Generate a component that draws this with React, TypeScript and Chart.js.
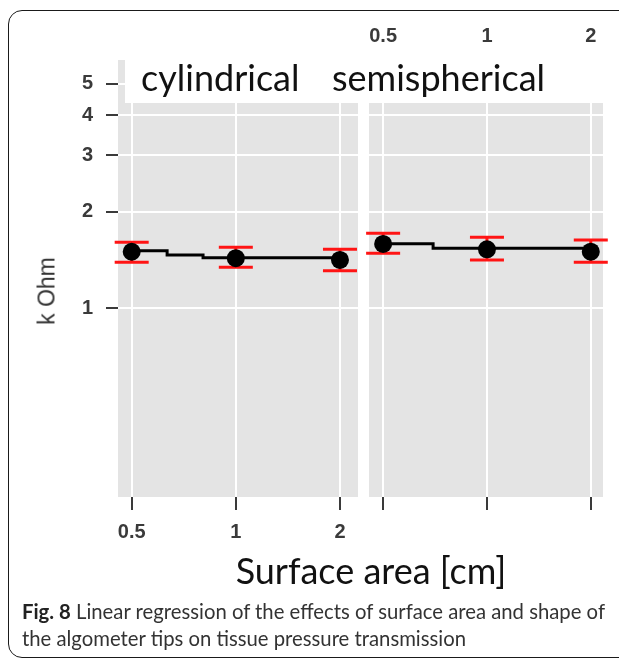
import React, { useEffect, useRef } from "react";
import { Chart, registerables } from "chart.js";

Chart.register(...registerables);

// ---- data ----
const xValues = [0.5, 1, 2];
const xTickLabels = ["0.5", "1", "2"];
const yTicks = [1, 2, 3, 4, 5];
const yTickLabels = ["1", "2", "3", "4", "5"];
const panelTitles = ["cylindrical", "semispherical"];

const cylMean = [1.5, 1.432, 1.414];
const cylLow = [1.391, 1.342, 1.31];
const cylHigh = [1.606, 1.549, 1.527];
const cylFitX = [0.5, 0.633, 0.804, 2];
const cylFitY = [1.51, 1.466, 1.437, 1.437];

const semiMean = [1.586, 1.527, 1.501];
const semiLow = [1.484, 1.414, 1.391];
const semiHigh = [1.713, 1.664, 1.632];
const semiFitX = [0.5, 0.698, 2];
const semiFitY = [1.588, 1.538, 1.53];

const Y_MIN = 0.2583;
const Y_MAX = 5.935;

const FONT_TICK = { family: "'Liberation Sans', Arial, sans-serif", size: 20, weight: "bold" as const };
const TICK_COLOR = "#3a3a3a";

const bgPlugin = {
  id: "panelBg",
  beforeDraw(chart: any) {
    const { ctx, chartArea } = chart;
    ctx.save();
    ctx.fillStyle = "#e4e4e4";
    ctx.fillRect(chartArea.left, chartArea.top, chartArea.right - chartArea.left, chartArea.bottom - chartArea.top);
    ctx.restore();
  },
};

const errPlugin = {
  id: "errBars",
  beforeDatasetDraw(chart: any, args: any) {
    const ds = chart.data.datasets[args.index];
    if (!ds.errLow) return;
    const { ctx } = chart;
    const xs = chart.scales.x;
    const ys = chart.scales.y;
    ctx.save();
    ctx.strokeStyle = "#ff1414";
    ctx.lineWidth = 3;
    ds.data.forEach((p: any, i: number) => {
      const px = xs.getPixelForValue(p.x);
      const lo = ys.getPixelForValue(ds.errLow[i]);
      const hi = ys.getPixelForValue(ds.errHigh[i]);
      const w = 17;
      ctx.beginPath();
      ctx.moveTo(px, lo);
      ctx.lineTo(px, hi);
      ctx.moveTo(px - w, lo);
      ctx.lineTo(px + w, lo);
      ctx.moveTo(px - w, hi);
      ctx.lineTo(px + w, hi);
      ctx.stroke();
    });
    ctx.restore();
  },
};

function makeConfig(
  mean: number[],
  low: number[],
  high: number[],
  fitX: number[],
  fitY: number[],
  left: boolean,
  xMin: number,
  xMax: number,
  padLeft: number,
  padRight: number
): any {
  const xTicksBuild = (s: any) => {
    s.ticks = xValues.map((v) => ({ value: v }));
  };
  const scales: any = {
    x: {
      type: "logarithmic",
      position: "bottom",
      min: xMin,
      max: xMax,
      afterBuildTicks: xTicksBuild,
      afterFit: (s: any) => {
        s.height = 63;
        s.paddingLeft = 0;
        s.paddingRight = 0;
      },
      border: { display: false },
      grid: {
        color: "#ffffff",
        lineWidth: 2,
        drawTicks: true,
        tickLength: 13,
        tickColor: TICK_COLOR,
        tickWidth: 2,
      },
      ticks: {
        font: FONT_TICK,
        color: TICK_COLOR,
        padding: 10,
        maxRotation: 0,
        autoSkip: false,
        callback: (_v: any, i: number) => (left ? xTickLabels[i] : ""),
      },
    },
    y: {
      type: "logarithmic",
      position: "left",
      min: Y_MIN,
      max: Y_MAX,
      afterBuildTicks: (s: any) => {
        s.ticks = yTicks.map((v) => ({ value: v }));
      },
      afterFit: (s: any) => {
        s.width = left ? 118 : 0;
        s.paddingTop = 0;
        s.paddingBottom = 0;
      },
      border: { display: false },
      grid: {
        color: "#ffffff",
        lineWidth: 2,
        drawTicks: left,
        tickLength: 12,
        tickColor: TICK_COLOR,
        tickWidth: 2,
      },
      ticks: {
        display: left,
        font: FONT_TICK,
        color: TICK_COLOR,
        padding: 13,
        autoSkip: false,
        callback: (_v: any, i: number) => yTickLabels[i],
      },
    },
  };
  if (!left) {
    scales.xTop = {
      type: "logarithmic",
      position: "top",
      min: xMin,
      max: xMax,
      afterBuildTicks: xTicksBuild,
      afterFit: (s: any) => {
        s.height = 60;
        s.paddingLeft = 0;
        s.paddingRight = 0;
      },
      border: { display: false },
      grid: { display: false, drawTicks: false },
      ticks: {
        font: FONT_TICK,
        color: TICK_COLOR,
        padding: 12,
        maxRotation: 0,
        autoSkip: false,
        callback: (_v: any, i: number) => xTickLabels[i],
      },
    };
  }
  return {
    type: "line",
    data: {
      datasets: [
        {
          label: "fit",
          data: fitX.map((x, i) => ({ x, y: fitY[i] })),
          borderColor: "#000000",
          borderWidth: 3,
          stepped: "before",
          pointRadius: 0,
          fill: false,
          order: 2,
        },
        {
          label: "mean",
          data: xValues.map((x, i) => ({ x, y: mean[i] })),
          errLow: low,
          errHigh: high,
          showLine: false,
          pointRadius: 9,
          pointBackgroundColor: "#000000",
          pointBorderColor: "#000000",
          pointBorderWidth: 0,
          order: 1,
        },
      ],
    },
    options: {
      animation: false,
      responsive: false,
      maintainAspectRatio: false,
      devicePixelRatio: 1,
      layout: { padding: { left: padLeft, right: padRight, top: left ? 60 : 0, bottom: 0 } },
      plugins: { legend: { display: false }, tooltip: { enabled: false } },
      scales,
    },
    plugins: [bgPlugin, errPlugin],
  };
}

export default function App() {
  const leftRef = useRef<HTMLCanvasElement>(null);
  const rightRef = useRef<HTMLCanvasElement>(null);

  useEffect(() => {
    const c1 = new Chart(
      leftRef.current as HTMLCanvasElement,
      makeConfig(cylMean, cylLow, cylHigh, cylFitX, cylFitY, true, 0.4565, 2.255, 0, 4)
    );
    const c2 = new Chart(
      rightRef.current as HTMLCanvasElement,
      makeConfig(semiMean, semiLow, semiHigh, semiFitX, semiFitY, false, 0.455, 2.17, 9, 16)
    );
    return () => {
      c1.destroy();
      c2.destroy();
    };
  }, []);

  const textFont = "Lato, 'Open Sans', sans-serif";

  return (
    <div
      style={{
        position: "absolute",
        left: 0,
        top: 0,
        width: 619,
        height: 662,
        overflow: "hidden",
        background: "#ffffff",
      }}
    >
      <div
        style={{
          position: "absolute",
          left: 8,
          top: 10,
          width: 680,
          height: 648,
          border: "1.5px solid #1a1a1a",
          borderRadius: 14,
          boxSizing: "border-box",
        }}
      />
      <canvas
        ref={leftRef}
        width={367}
        height={560}
        style={{ position: "absolute", left: 0, top: 0, width: 367, height: 560 }}
      />
      <canvas
        ref={rightRef}
        width={259}
        height={560}
        style={{ position: "absolute", left: 360, top: 0, width: 259, height: 560 }}
      />
      <div
        style={{
          position: "absolute",
          left: 125,
          top: 60,
          width: 494,
          height: 43,
          background: "#ffffff",
        }}
      >
        <div
          style={{
            position: "absolute",
            left: 16,
            top: -8,
            fontFamily: textFont,
            fontSize: 36,
            color: "#111",
            whiteSpace: "nowrap",
            lineHeight: "50px",
          }}
        >
          {panelTitles[0]}
        </div>
        <div
          style={{
            position: "absolute",
            left: 207,
            top: -8,
            fontFamily: textFont,
            fontSize: 36,
            color: "#111",
            whiteSpace: "nowrap",
            lineHeight: "50px",
          }}
        >
          {panelTitles[1]}
        </div>
      </div>
      <div
        style={{
          position: "absolute",
          left: 47,
          top: 291,
          transform: "translate(-50%, -50%) rotate(-90deg)",
          fontFamily: "'Liberation Sans', Arial, sans-serif",
          fontSize: 23,
          color: "#333",
          whiteSpace: "nowrap",
        }}
      >
        k Ohm
      </div>
      <div
        style={{
          position: "absolute",
          left: 0,
          top: 547,
          width: 742,
          textAlign: "center",
          fontFamily: textFont,
          fontSize: 36,
          color: "#111",
          whiteSpace: "nowrap",
          lineHeight: "46px",
        }}
      >
        Surface area [cm]
      </div>
      <div
        style={{
          position: "absolute",
          left: 22,
          top: 598,
          width: 610,
          fontFamily: textFont,
          fontSize: 20.3,
          lineHeight: "27px",
          color: "#333",
          whiteSpace: "nowrap",
        }}
      >
        <span style={{ fontWeight: "bold", color: "#222" }}>Fig. 8</span> Linear regression of the effects of surface area and shape of
        <br />
        the algometer tips on tissue pressure transmission
      </div>
    </div>
  );
}
